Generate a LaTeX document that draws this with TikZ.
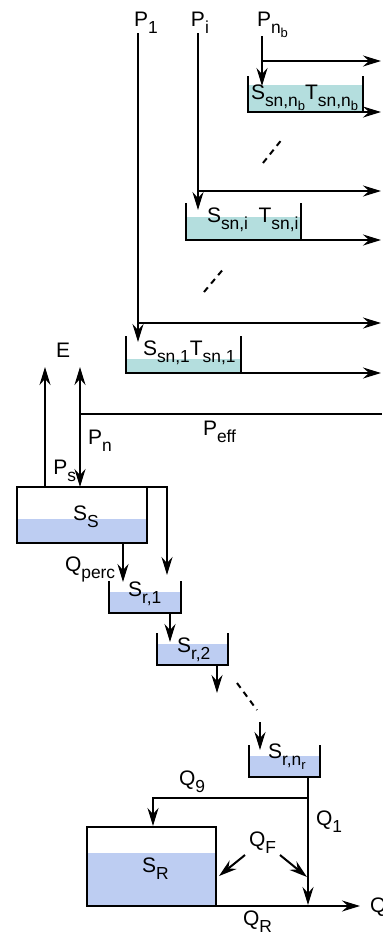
\documentclass[tikz,border=0pt]{standalone}
\usepackage{fontspec}
\setmainfont{Liberation Sans}
\usetikzlibrary{arrows.meta}
\definecolor{snowfill}{RGB}{180,222,222}
\definecolor{waterfill}{RGB}{189,205,242}
\newcommand{\lowr}[1]{\raisebox{-0.7ex}{\fontsize{8.7}{8.7}\selectfont #1}}
\newcommand{\lowrr}[1]{\raisebox{-0.45ex}{\fontsize{6.5}{6.5}\selectfont #1}}
\begin{document}
\begin{tikzpicture}[
        x=0.5pt, y=-0.5pt,
        line width=1pt,
        flow/.style={-{Stealth[length=9pt,width=5.5pt,inset=3pt]}},
        twoway/.style={{Stealth[length=9pt,width=5.5pt,inset=3pt]}-{Stealth[length=9pt,width=5.5pt,inset=3pt]}},
        dots/.style={dash pattern=on 3pt off 2.5pt},
        lbl/.style={anchor=base west, inner sep=0pt, font=\fontsize{10.5}{13}\selectfont}
    ]
    \useasboundingbox (0,0) rectangle (382,939);

    \coordinate (P1top) at (138,33);
    \coordinate (Pitop) at (198,33);
    \coordinate (Pnbtop) at (262,36);
    \coordinate (P1in) at (138,342);
    \coordinate (Piin) at (198,210);
    \coordinate (Pnbin) at (262,86);
    \coordinate (P1out) at (138,323);
    \coordinate (Piout) at (198,191);
    \coordinate (Pnbout) at (262,61);

    \node[lbl] (lP1) at (133,26) {P\lowr{1}};
    \node[lbl] (lPi) at (190,26) {P\lowr{i}};
    \node[lbl] (lPnb) at (256,26) {P\lowr{n\lowrr{b}}};

    \draw[flow] (P1top) -- (P1in);
    \draw[flow] (Pitop) -- (Piin);
    \draw[flow] (Pnbtop) -- (Pnbin);
    \draw[flow] (P1out) -- (381,323);
    \draw[flow] (Piout) -- (381,191);
    \draw[flow] (Pnbout) -- (381,61);

    \fill[snowfill] (248,85) rectangle (363,112);
    \draw (248,76) |- (363,112) -- (363,76);
    \draw[flow] (363,112) -- (381,112);
    \node[lbl] (Snb) at (250,99) {S\lowr{sn,n\lowrr{b}}T\lowr{sn,n\lowrr{b}}};

    \fill[snowfill] (186,217) rectangle (301,240);
    \draw (186,203) |- (301,240) -- (301,203);
    \draw[flow] (301,240) -- (381,240);
    \node[lbl] (Si) at (206,222) {S\lowr{sn,i}\enspace T\lowr{sn,i}};

    \fill[snowfill] (126,359) rectangle (241,373);
    \draw (126,336) |- (241,373) -- (241,336);
    \draw[flow] (241,373) -- (381,373);
    \node[lbl] (S1) at (142,355) {S\lowr{sn,1}T\lowr{sn,1}};

    \draw[dots] (263,163) -- (283,138);
    \draw[dots] (204,292) -- (225,267);

    \coordinate (Etop) at (45,367);
    \coordinate (Ebot) at (45,487);
    \coordinate (Pntop) at (80,367);
    \coordinate (Pnbot) at (80,487);
    \coordinate (Peff) at (80,414);
    \draw[flow] (Ebot) -- (Etop);
    \draw[twoway] (Pntop) -- (Pnbot);
    \draw (Peff) -- (382,414);
    \node[lbl] (lE) at (55,357) {E};
    \node[lbl] (lPn) at (87,444) {P\lowr{n}};
    \node[lbl, anchor=base east] (lPs) at (77,474) {P\lowr{s}};
    \node[lbl] (lPeff) at (202,435) {P\lowr{eff}};

    \fill[waterfill] (17,519) rectangle (147,543);
    \draw (17,487) rectangle (147,543);
    \draw[flow] (147,487) -| (167,575);
    \draw[flow] (123,543) -- (123,582);
    \node[lbl] (SS) at (72,520) {S\lowr{S}};
    \node[lbl] (lQperc) at (64,571) {Q\lowr{perc}};

    \fill[waterfill] (109,592) rectangle (181,613);
    \draw (109,581) |- (181,613) -- (181,581);
    \node[lbl] (Sr1) at (127,596) {S\lowr{r,1}};
    \draw[flow] (170,613) -- (170,642);

    \fill[waterfill] (157,644) rectangle (228,665);
    \draw (157,633) |- (228,665) -- (228,633);
    \node[lbl] (Sr2) at (176,652) {S\lowr{r,2}};
    \draw[flow] (217,665) -- (217,693);

    \draw[dots] (237,683) -- (257,710);
    \draw[flow] (260,722) -- (260,750);

    \fill[waterfill] (249,756) rectangle (320,777);
    \draw (249,745) |- (320,777) -- (320,745);
    \node[lbl] (Srnr) at (267,758) {S\lowr{r,n\lowrr{r}}};

    \coordinate (Q1top) at (308,777);
    \coordinate (Q9split) at (308,798);
    \coordinate (Qjoin) at (308,905);
    \draw[flow] (Q1top) -- (Qjoin);
    \draw[flow] (Q9split) -| (153,826);
    \node[lbl] (lQ9) at (178,785) {Q\lowr{9}};
    \node[lbl] (lQ1) at (315,825) {Q\lowr{1}};

    \fill[waterfill] (87,853) rectangle (216,906);
    \draw (87,827) rectangle (216,906);
    \node[lbl] (SR) at (141,872) {S\lowr{R}};
    \draw[flow] (216,906) -- (360,906);
    \node[lbl] (lQ) at (369,912) {Q};
    \node[lbl] (lQR) at (242,925) {Q\lowr{R}};

    \node[lbl] (lQF) at (248,846) {Q\lowr{F}};
    \draw[flow] (245,855) -- (219,876);
    \draw[flow] (280,855) -- (307,877);
\end{tikzpicture}
\end{document}
